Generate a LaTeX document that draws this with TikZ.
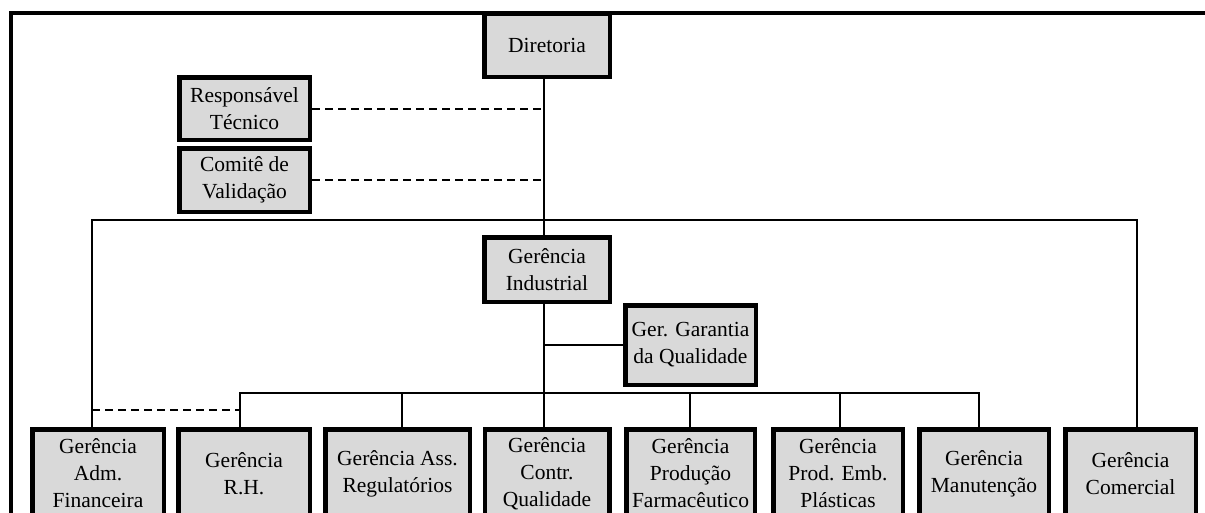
\documentclass[tikz,border=0pt]{standalone}
\usepackage{fontspec}
\setmainfont{Liberation Serif}
\definecolor{boxgray}{RGB}{217,217,217}
\tikzset{
  unit/.style={draw, line width=4.5pt, fill=boxgray, align=center, inner sep=0pt,
    font=\fontsize{21.5}{27}\selectfont},
  link/.style={line width=2pt},
  dashlink/.style={line width=2pt, dash pattern=on 8pt off 5pt},
  frame/.style={line width=4pt}
}

\begin{document}
\begin{tikzpicture}[x=1pt,y=-1pt]
  \useasboundingbox (0,0) rectangle (1205,512);
  \clip (0,0) rectangle (1205,512);
  \fill[white] (0,0) rectangle (1205,512);
  \draw[frame] (11,530) -- (11,13) -- (1220,13);

  % top of the chart
  \node[unit, minimum width=125.5pt, minimum height=63pt] (dir) at (547,45.5) {Diretoria};
  \node[unit, minimum width=130.5pt, minimum height=62.5pt] (resp) at (244.5,108.5) {Responsável\\Técnico};
  \node[unit, minimum width=130.5pt, minimum height=63.5pt] (comite) at (244.5,180) {Comitê de\\Validação};
  \node[unit, minimum width=125.5pt, minimum height=64.5pt] (gi) at (547,269.5) {Gerência\\Industrial};
  \node[unit, minimum width=130.5pt, minimum height=79.5pt] (ggq) at (690.5,345) {Ger. Garantia\\da Qualidade};

  % managers row
  \node[unit, minimum width=131.5pt, minimum height=88.5pt] (adm) at (98,473.5) {Gerência\\Adm.\\Financeira};
  \node[unit, minimum width=131.5pt, minimum height=88.5pt] (rh) at (244,473.5) {Gerência\\R.H.};
  \node[unit, minimum width=144.5pt, minimum height=88.5pt] (ass) at (397.5,473.5) {Gerência Ass.\\Regulatórios};
  \node[unit, minimum width=124.5pt, minimum height=88.5pt] (cq) at (547,473.5) {Gerência\\Contr.\\Qualidade};
  \node[unit, minimum width=128.5pt, minimum height=88.5pt] (prod) at (690.5,473.5) {Gerência\\Produção\\Farmacêutico};
  \node[unit, minimum width=129.5pt, minimum height=88.5pt] (emb) at (838,473.5) {Gerência\\Prod. Emb.\\Plásticas};
  \node[unit, minimum width=129.5pt, minimum height=88.5pt] (man) at (984,473.5) {Gerência\\Manutenção};
  \node[unit, minimum width=130.5pt, minimum height=88.5pt] (com) at (1130.5,473.5) {Gerência\\Comercial};

  \coordinate (spine) at (544,0);
  \coordinate (barL) at (92,220);
  \coordinate (barR) at (1137,220);
  \coordinate (lowL) at (240,393);
  \coordinate (lowR) at (979,393);
  \coordinate (finL) at (92,410);

  % solid lines
  \draw[link] (dir.south -| spine) -- (gi.north -| spine);
  \draw[link] (gi.south -| spine) -- (cq.north -| spine);
  \draw[link] (adm.north -| barL) -- (barL) -- (barR) -- (com.north -| barR);
  \draw[link] (rh.north -| lowL) -- (lowL) -- (lowR) -- (man.north -| lowR);
  \foreach \px/\nd in {402/ass, 690/prod, 840/emb}{
    \coordinate (drop) at (\px,393);
    \draw[link] (drop) -- (drop |- \nd.north);
  }
  \draw[link] (ggq.west) -- (ggq.west -| spine);

  % dashed lines
  \draw[dashlink] (resp.east) -- (resp.east -| spine);
  \draw[dashlink] (comite.east) -- (comite.east -| spine);
  \draw[dashlink] (finL) -- (finL -| lowL);
\end{tikzpicture}
\end{document}
